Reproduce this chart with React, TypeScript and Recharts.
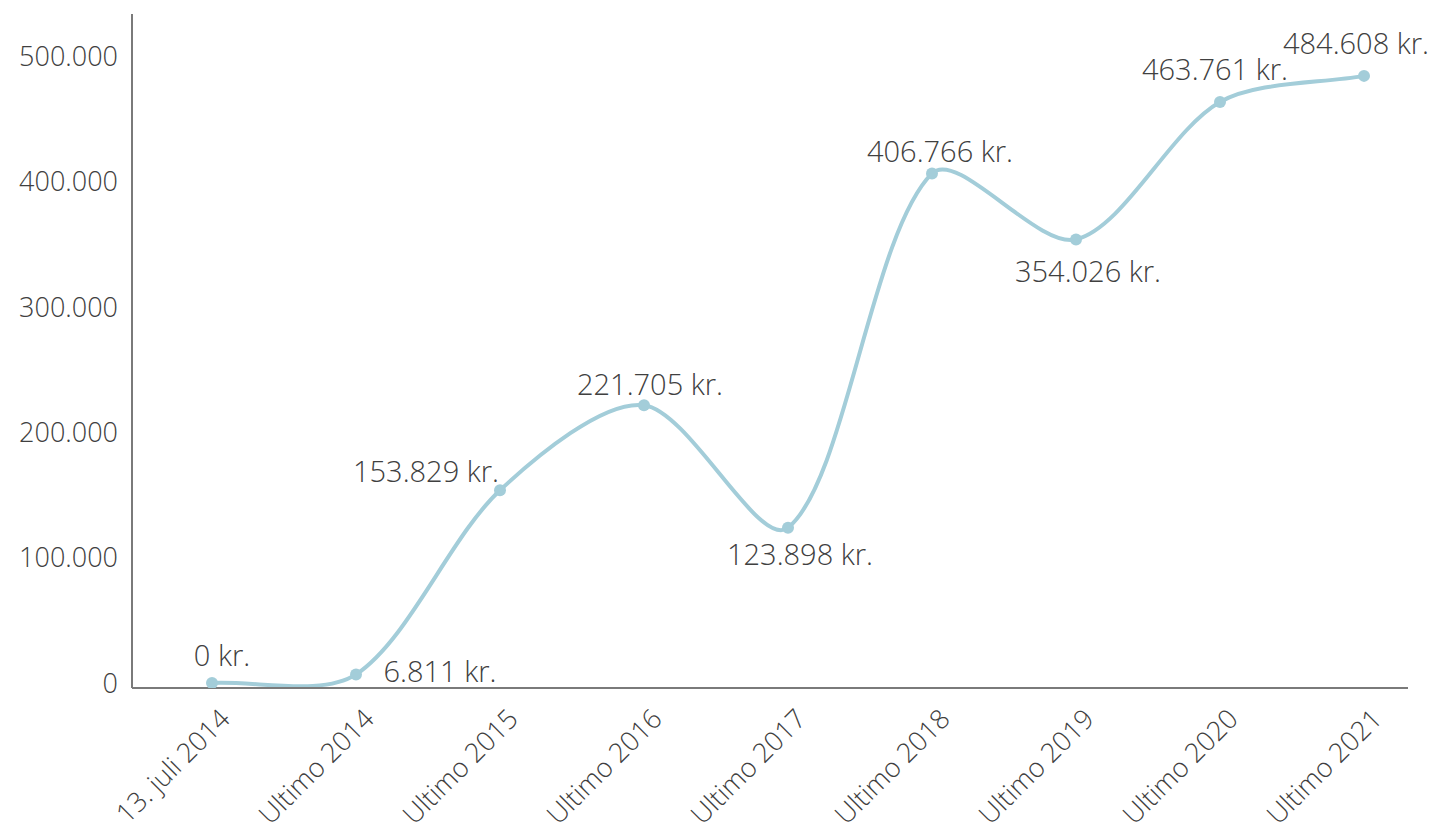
import React from 'react';
import { LineChart, Line, XAxis, YAxis, LabelList } from 'recharts';

const categories = [
  '13. juli 2014',
  'Ultimo 2014',
  'Ultimo 2015',
  'Ultimo 2016',
  'Ultimo 2017',
  'Ultimo 2018',
  'Ultimo 2019',
  'Ultimo 2020',
  'Ultimo 2021',
];
const values = [0, 6811, 153829, 221705, 123898, 406766, 354026, 463761, 484608];
const yTicks = [0, 100000, 200000, 300000, 400000, 500000];

// label offsets relative to each point (styling)
const labelOffsets: [number, number][] = [
  [10, -28],
  [84, -4],
  [-74, -20],
  [6, -22],
  [12, 26],
  [8, -23],
  [12, 31],
  [-5, -33],
  [-8, -33],
];

const data = categories.map((c, i) => ({ name: c, value: values[i] }));

const fmt = (v: number) => {
  const s = Math.round(v).toString();
  return s.replace(/\B(?=(\d{3})+(?!\d))/g, '.');
};

function splineCurve(tension: number) {
  return (context: any) => {
    let pts: [number, number][] = [];
    return {
      areaStart() {},
      areaEnd() {},
      lineStart() {
        pts = [];
      },
      point(x: number, y: number) {
        pts.push([+x, +y]);
      },
      lineEnd() {
        if (!pts.length) return;
        context.moveTo(pts[0][0], pts[0][1]);
        const cps = pts.map((p, i) => {
          const prev = pts[i - 1] || p;
          const next = pts[i + 1] || p;
          const d01 = Math.hypot(p[0] - prev[0], p[1] - prev[1]);
          const d12 = Math.hypot(next[0] - p[0], next[1] - p[1]);
          let s01 = d01 / (d01 + d12);
          let s12 = d12 / (d01 + d12);
          if (isNaN(s01)) s01 = 0;
          if (isNaN(s12)) s12 = 0;
          const fa = tension * s01;
          const fb = tension * s12;
          return {
            prev: [p[0] - fa * (next[0] - prev[0]), p[1] - fa * (next[1] - prev[1])],
            next: [p[0] + fb * (next[0] - prev[0]), p[1] + fb * (next[1] - prev[1])],
          };
        });
        for (let i = 1; i < pts.length; i++) {
          context.bezierCurveTo(
            cps[i - 1].next[0], cps[i - 1].next[1],
            cps[i].prev[0], cps[i].prev[1],
            pts[i][0], pts[i][1]
          );
        }
      },
    };
  };
}

const FONT = "'Open Sans', sans-serif";
const TEXT = '#404040';

const XTick = (props: any) => {
  const { x, y, payload } = props;
  return (
    <g transform={`translate(${x + 13},${y + 18})`}>
      <text
        textAnchor="end"
        transform="rotate(-45)"
        dy="0.35em"
        fill={TEXT}
        fontFamily={FONT}
        fontWeight={300}
        fontSize={27}
      >
        {payload.value}
      </text>
    </g>
  );
};

const ValueLabel = (props: any) => {
  const { x, y, value, index } = props;
  const [dx, dy] = labelOffsets[index] || [0, -25];
  return (
    <text
      x={x + dx}
      y={y + dy}
      textAnchor="middle"
      dominantBaseline="central"
      fill={TEXT}
      fontFamily={FONT}
      fontWeight={300}
      fontSize={29}
    >
      {fmt(value)} kr.
    </text>
  );
};

export default function App() {
  return (
    <div style={{ position: 'absolute', left: 0, top: 0, width: 1437, height: 823, background: '#fff', overflow: 'hidden' }}>
      <LineChart
        width={1437}
        height={823}
        data={data}
        margin={{ top: 14, right: 29, bottom: 0, left: 0 }}
      >
        <XAxis
          dataKey="name"
          height={135}
          axisLine={{ stroke: '#7a7a7a', strokeWidth: 2 }}
          tickLine={false}
          interval={0}
          padding={{ left: 80, right: 44 }}
          tick={<XTick />}
        />
        <YAxis
          width={132}
          domain={[-4000, 534000]}
          ticks={yTicks}
          allowDataOverflow
          axisLine={{ stroke: '#7a7a7a', strokeWidth: 2 }}
          tickLine={false}
          tickSize={0}
          tickMargin={14}
          tickFormatter={(v: number) => fmt(v)}
          tick={{ fill: TEXT, fontFamily: FONT, fontWeight: 300, fontSize: 27 }}
        />
        <Line
          dataKey="value"
          type={splineCurve(0.3) as any}
          stroke="#a3cdd9"
          strokeWidth={4}
          dot={{ r: 6, fill: '#a3cdd9', stroke: 'none' }}
          activeDot={false}
          isAnimationActive={false}
        >
          <LabelList dataKey="value" content={<ValueLabel />} />
        </Line>
      </LineChart>
    </div>
  );
}
